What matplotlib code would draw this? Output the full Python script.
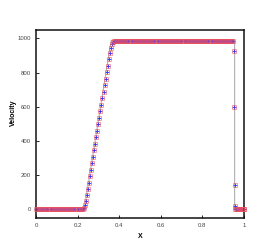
import matplotlib
matplotlib.use("Agg")
import matplotlib.pyplot as plt

# -----------------------------
# data
# -----------------------------
# exact solution (grey line)
x_exact = [0.0, 0.232, 0.362, 0.956, 0.956, 1.0]
u_exact = [0.0, 0.0, 988.0, 988.0, 0.0, 0.0]

# numerical points: flat left state
x_left = [0.0, 0.005, 0.01, 0.015, 0.02, 0.025, 0.03, 0.035, 0.04, 0.045,
          0.05, 0.055, 0.06, 0.065, 0.07, 0.075, 0.08, 0.085, 0.09, 0.095,
          0.10, 0.105, 0.11, 0.115, 0.12, 0.125, 0.13, 0.135, 0.14, 0.145,
          0.15, 0.155, 0.16, 0.165, 0.17, 0.175, 0.18, 0.185, 0.19, 0.195,
          0.20, 0.205, 0.21, 0.215, 0.22]
u_left = [0.0] * len(x_left)

# ramp
x_ramp = [0.225, 0.23, 0.235, 0.24, 0.245, 0.25, 0.255, 0.26, 0.265, 0.27,
          0.275, 0.28, 0.285, 0.29, 0.295, 0.30, 0.305, 0.31, 0.315, 0.32,
          0.325, 0.33, 0.335, 0.34, 0.345, 0.35, 0.355, 0.36, 0.365, 0.37,
          0.375]
u_ramp = [3, 9, 24, 50, 84, 120, 157, 195, 233, 271, 309, 347, 385, 423,
          461, 499, 537, 575, 613, 651, 689, 727, 765, 803, 841, 878, 912,
          944, 966, 979, 985]

# plateau
x_top = [0.38, 0.385, 0.39, 0.395, 0.40, 0.405, 0.41, 0.415, 0.42, 0.425,
         0.43, 0.435, 0.44, 0.445, 0.45, 0.455, 0.46, 0.465, 0.47, 0.475,
         0.48, 0.485, 0.49, 0.495, 0.50, 0.505, 0.51, 0.515, 0.52, 0.525,
         0.53, 0.535, 0.54, 0.545, 0.55, 0.555, 0.56, 0.565, 0.57, 0.575,
         0.58, 0.585, 0.59, 0.595, 0.60, 0.605, 0.61, 0.615, 0.62, 0.625,
         0.63, 0.635, 0.64, 0.645, 0.65, 0.655, 0.66, 0.665, 0.67, 0.675,
         0.68, 0.685, 0.69, 0.695, 0.70, 0.705, 0.71, 0.715, 0.72, 0.725,
         0.73, 0.735, 0.74, 0.745, 0.75, 0.755, 0.76, 0.765, 0.77, 0.775,
         0.78, 0.785, 0.79, 0.795, 0.80, 0.805, 0.81, 0.815, 0.82, 0.825,
         0.83, 0.835, 0.84, 0.845, 0.85, 0.855, 0.86, 0.865, 0.87, 0.875,
         0.88, 0.885, 0.89, 0.895, 0.90, 0.905, 0.91, 0.915, 0.92, 0.925,
         0.93, 0.935, 0.94, 0.945, 0.95]
u_top = [987.0] * len(x_top)

# shock and right state
x_shock = [0.954, 0.955, 0.956, 0.958, 0.960, 0.963, 0.966, 0.969, 0.972,
           0.975, 0.978, 0.981, 0.984, 0.987, 0.990, 0.993, 0.996, 0.999,
           1.0]
u_shock_sq = [928, 597, 140, 22, 5, 0, 0, 0, 0, 0, 0, 0, 0, 0, 0, 0, 0, 0, 0]
u_shock_pl = [928, 597, 140, 20, 4, 0, 0, 0, 0, 0, 0, 0, 0, 0, 0, 0, 0, 0, 0]

x_ticks = [0, 0.2, 0.4, 0.6, 0.8, 1]
x_ticklabels = ["0", "0.2", "0.4", "0.6", "0.8", "1"]
y_ticks = [0, 200, 400, 600, 800, 1000]


def main():
    plt.rcParams["font.family"] = ["Liberation Sans", "DejaVu Sans"]

    x_pts = x_left + x_ramp + x_top + x_shock
    u_sq = u_left + u_ramp + u_top + u_shock_sq
    u_pl = u_left + u_ramp + u_top + u_shock_pl

    fig = plt.figure(figsize=(2.77, 2.46), dpi=100)
    ax = fig.add_axes([0.130, 0.114, 0.750, 0.765])

    ax.plot(x_exact, u_exact, color="#b0b0b0", lw=0.8, zorder=1)
    ax.plot(x_pts, u_pl, ls="none", marker="+", ms=2.3, color="#2e2eff",
            mew=0.6, clip_on=False, zorder=2)
    ax.plot(x_pts, u_sq, ls="none", marker="s", ms=3.5, mfc="none",
            mec="#e8505e", mew=0.7, alpha=0.55, clip_on=False, zorder=3)

    ax.set_xlim(0, 1)
    ax.set_ylim(-50, 1050)
    ax.set_xticks(x_ticks)
    ax.set_xticklabels(x_ticklabels)
    ax.set_yticks(y_ticks)
    ax.tick_params(direction="in", length=2.5, width=0.7, labelsize=4.3,
                   pad=3.5, colors="#222222")
    ax.tick_params(labelcolor="#444444")
    for sp in ax.spines.values():
        sp.set_linewidth(1.1)
        sp.set_color("#111111")

    ax.set_xlabel("X", fontsize=5, fontweight="bold", labelpad=4)
    ax.set_ylabel("Velocity", fontsize=5, fontweight="bold", labelpad=1)
    ax.yaxis.set_label_coords(-0.09, 0.56)

    fig.savefig("out.png", dpi=100)


if __name__ == "__main__":
    main()
